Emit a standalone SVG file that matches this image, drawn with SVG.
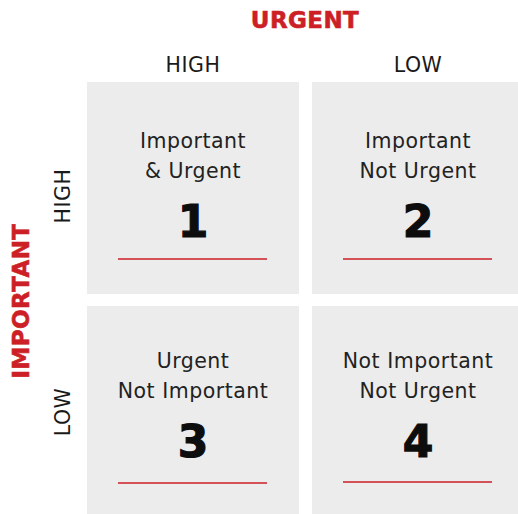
<svg xmlns="http://www.w3.org/2000/svg" width="518" height="514" viewBox="0 0 518 514">
  <style>
    .box { fill: #ececec; }
    .axis { font-family: "DejaVu Sans", sans-serif; font-weight: bold; font-size: 23px; fill: #cc1f26; text-anchor: middle; letter-spacing: 0.4px; stroke: #cc1f26; stroke-width: 0.6; }
    .level { font-family: "DejaVu Sans", sans-serif; font-size: 20.5px; fill: #1a1a1a; text-anchor: middle; letter-spacing: 0.5px; }
    .label { font-family: "DejaVu Sans", sans-serif; font-size: 20.5px; fill: #222222; text-anchor: middle; letter-spacing: 0.5px; }
    .num { font-family: "DejaVu Sans", sans-serif; font-weight: bold; font-size: 44px; fill: #0d0d0d; stroke: #0d0d0d; stroke-width: 1.2; text-anchor: middle; }
    .rule { stroke: #cc1f26; stroke-width: 1.5; }
  </style>
  <rect width="518" height="514" fill="#ffffff"/>

  <!-- axis titles and levels -->
  <g id="axes">
    <text class="axis" x="305" y="28">URGENT</text>
    <text class="axis" transform="translate(29,301) rotate(-90)">IMPORTANT</text>
    <text class="level" x="193" y="72">HIGH</text>
    <text class="level" x="418" y="72">LOW</text>
    <text class="level" transform="translate(70,196) rotate(-90)">HIGH</text>
    <text class="level" transform="translate(70,412) rotate(-90)">LOW</text>
  </g>

  <!-- quadrants -->
  <g id="q1">
    <rect class="box" x="87" y="82" width="212" height="212"/>
    <text class="label" x="193" y="148">Important</text>
    <text class="label" x="193" y="178">&amp; Urgent</text>
    <text class="num" x="193" y="237">1</text>
    <line class="rule" x1="118" y1="259" x2="267" y2="259"/>
  </g>
  <g id="q2">
    <rect class="box" x="312" y="82" width="212" height="212"/>
    <text class="label" x="418" y="148">Important</text>
    <text class="label" x="418" y="178">Not Urgent</text>
    <text class="num" x="418" y="237">2</text>
    <line class="rule" x1="343" y1="259" x2="492" y2="259"/>
  </g>
  <g id="q3">
    <rect class="box" x="87" y="306" width="212" height="212"/>
    <text class="label" x="193" y="368">Urgent</text>
    <text class="label" x="193" y="398">Not Important</text>
    <text class="num" x="193" y="457">3</text>
    <line class="rule" x1="118" y1="483" x2="267" y2="483"/>
  </g>
  <g id="q4">
    <rect class="box" x="312" y="306" width="212" height="212"/>
    <text class="label" x="418" y="368">Not Important</text>
    <text class="label" x="418" y="398">Not Urgent</text>
    <text class="num" x="418" y="457">4</text>
    <line class="rule" x1="343" y1="482" x2="492" y2="482"/>
  </g>

  <g id="connectors"/>
</svg>
